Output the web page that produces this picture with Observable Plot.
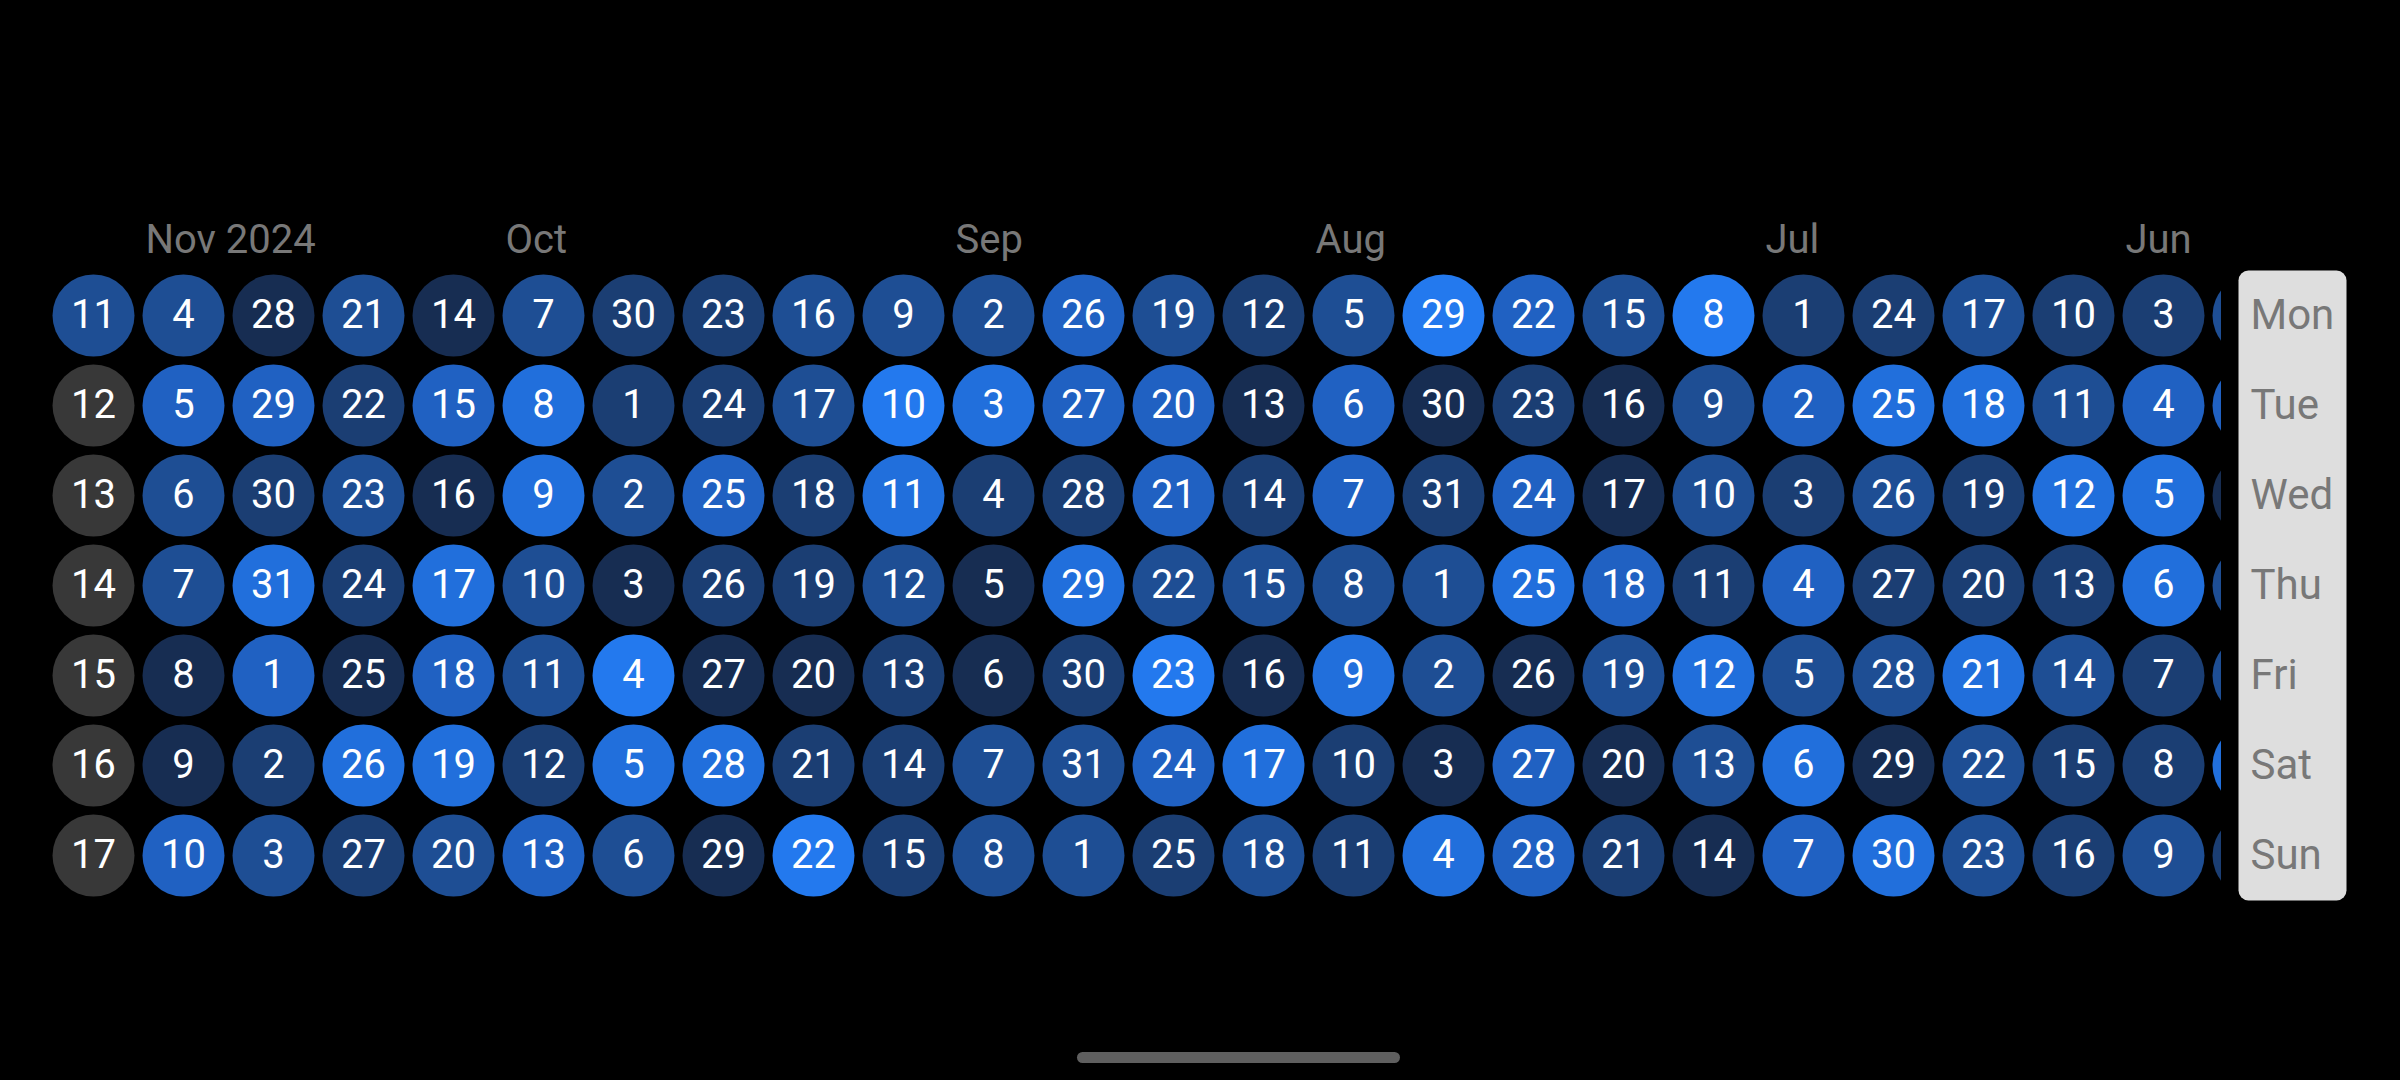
<!DOCTYPE html>
<html>
<head>
<meta charset="utf-8">
<script src="https://cdn.jsdelivr.net/npm/d3@7"></script>
<script src="https://cdn.jsdelivr.net/npm/@observablehq/plot@0.6"></script>
<style>
  html, body { margin: 0; padding: 0; background: #000; width: 2400px; height: 1080px; overflow: hidden; }
  #wrap { position: absolute; left: 0; top: 0; display: flex; flex-direction: row; }
  #wrap svg { overflow: hidden; display: block; }
  #home { position: absolute; left: 1077px; top: 1052px; width: 323px; height: 11px; border-radius: 6px; background: #5f5f5f; }
</style>
</head>
<body>
<div id="wrap"></div>
<div id="home"></div>
<script>
// Most recent week (Monday) shown at the left; weeks go back in time to the right
const latestMonday = "2024-11-11";
const dayNames = ["Mon", "Tue", "Wed", "Thu", "Fri", "Sat", "Sun"];
const monthLabels = ["Nov 2024", "Oct", "Sep", "Aug", "Jul", "Jun"];
// activity level per week (Mon..Sun); 0 = no data yet
const weekLevels = [
  [3, 0, 0, 0, 0, 0, 0], // Nov 11
  [3, 4, 3, 3, 1, 1, 4], // Nov 4
  [1, 4, 2, 5, 4, 2, 3], // Oct 28
  [3, 2, 3, 2, 1, 5, 2], // Oct 21
  [1, 4, 1, 5, 4, 5, 3], // Oct 14
  [3, 5, 5, 3, 3, 2, 4], // Oct 7
  [2, 2, 3, 1, 6, 5, 3], // Sep 30
  [2, 2, 4, 2, 1, 5, 1], // Sep 23
  [3, 3, 2, 2, 1, 2, 6], // Sep 16
  [3, 6, 5, 3, 2, 2, 2], // Sep 9
  [3, 5, 2, 1, 1, 3, 3], // Sep 2
  [4, 4, 2, 5, 2, 3, 3], // Aug 26
  [3, 4, 4, 3, 6, 4, 2], // Aug 19
  [2, 1, 2, 3, 1, 5, 3], // Aug 12
  [3, 4, 4, 3, 5, 2, 2], // Aug 5
  [6, 1, 2, 3, 3, 1, 5], // Jul 29
  [4, 2, 4, 5, 1, 4, 4], // Jul 22
  [3, 1, 1, 4, 3, 1, 2], // Jul 15
  [6, 3, 3, 2, 5, 3, 1], // Jul 8
  [2, 4, 2, 4, 3, 5, 4], // Jul 1
  [2, 5, 3, 2, 3, 1, 5], // Jun 24
  [3, 5, 2, 2, 5, 3, 3], // Jun 17
  [2, 3, 5, 2, 3, 2, 2], // Jun 10
  [2, 4, 5, 5, 2, 2, 3], // Jun 3
  [3, 4, 1, 3, 3, 5, 2]  // May 27 (mostly hidden behind the edge)
];
const levelDomain = [0, 1, 2, 3, 4, 5, 6];
const levelColors = ["#383838", "#172d52", "#1b3e73", "#1e4e94", "#2061c2", "#216fdc", "#2379ee"];

const parse = d3.utcParse("%Y-%m-%d");
const start = parse(latestMonday);
const cells = [];
weekLevels.forEach((week, w) => {
  const monday = d3.utcWeek.offset(start, -w);
  week.forEach((level, d) => {
    const date = d3.utcDay.offset(monday, d);
    cells.push({week: w, day: d, level, date: date.getUTCDate()});
  });
});
const lastFullWeek = weekLevels.length - 2;
// month label at the column holding the first Monday of each month
const months = [];
weekLevels.forEach((_, w) => {
  const monday = d3.utcWeek.offset(start, -w);
  if (monday.getUTCDate() <= 7 && w <= lastFullWeek) months.push({week: w});
});
months.forEach((m, i) => m.label = monthLabels[i]);

const font = "Roboto, 'Noto Sans', sans-serif";

const main = Plot.plot({
  width: 2221,
  height: 1080,
  margin: 0,
  style: {background: "transparent", fontFamily: font, fontSize: "40px", color: "#fff"},
  x: {domain: [0, 23], range: [93, 2163], axis: null},
  y: {domain: [0, 6], range: [315, 855], axis: null},
  color: {type: "ordinal", domain: levelDomain, range: levelColors},
  marks: [
    Plot.dot(cells, {x: "week", y: "day", r: 41, fill: "level", stroke: null}),
    Plot.text(cells.filter(c => c.week <= lastFullWeek), {x: "week", y: "day", text: "date", fill: "#ffffff", fontSize: 40}),
    Plot.text(months, {x: "week", y: () => -1, dy: 15, text: "label", textAnchor: "start", dx: -38, fill: "#787878", fontSize: 40})
  ]
});

const side = Plot.plot({
  width: 179,
  height: 1080,
  marginLeft: 17,
  marginRight: 54,
  marginTop: 270,
  marginBottom: 180,
  style: {background: "transparent", fontFamily: font, fontSize: "42px"},
  y: {domain: [-0.5, 6.5], range: [270, 900], axis: null},
  marks: [
    Plot.frame({fill: "#dedede", stroke: "none", rx: 10}),
    Plot.text(dayNames, {y: (d, i) => i, text: d => d, frameAnchor: "left", dx: 12, textAnchor: "start", fill: "#787878", fontSize: 42})
  ]
});

const wrap = document.getElementById("wrap");
wrap.appendChild(main);
wrap.appendChild(side);
</script>
</body>
</html>
